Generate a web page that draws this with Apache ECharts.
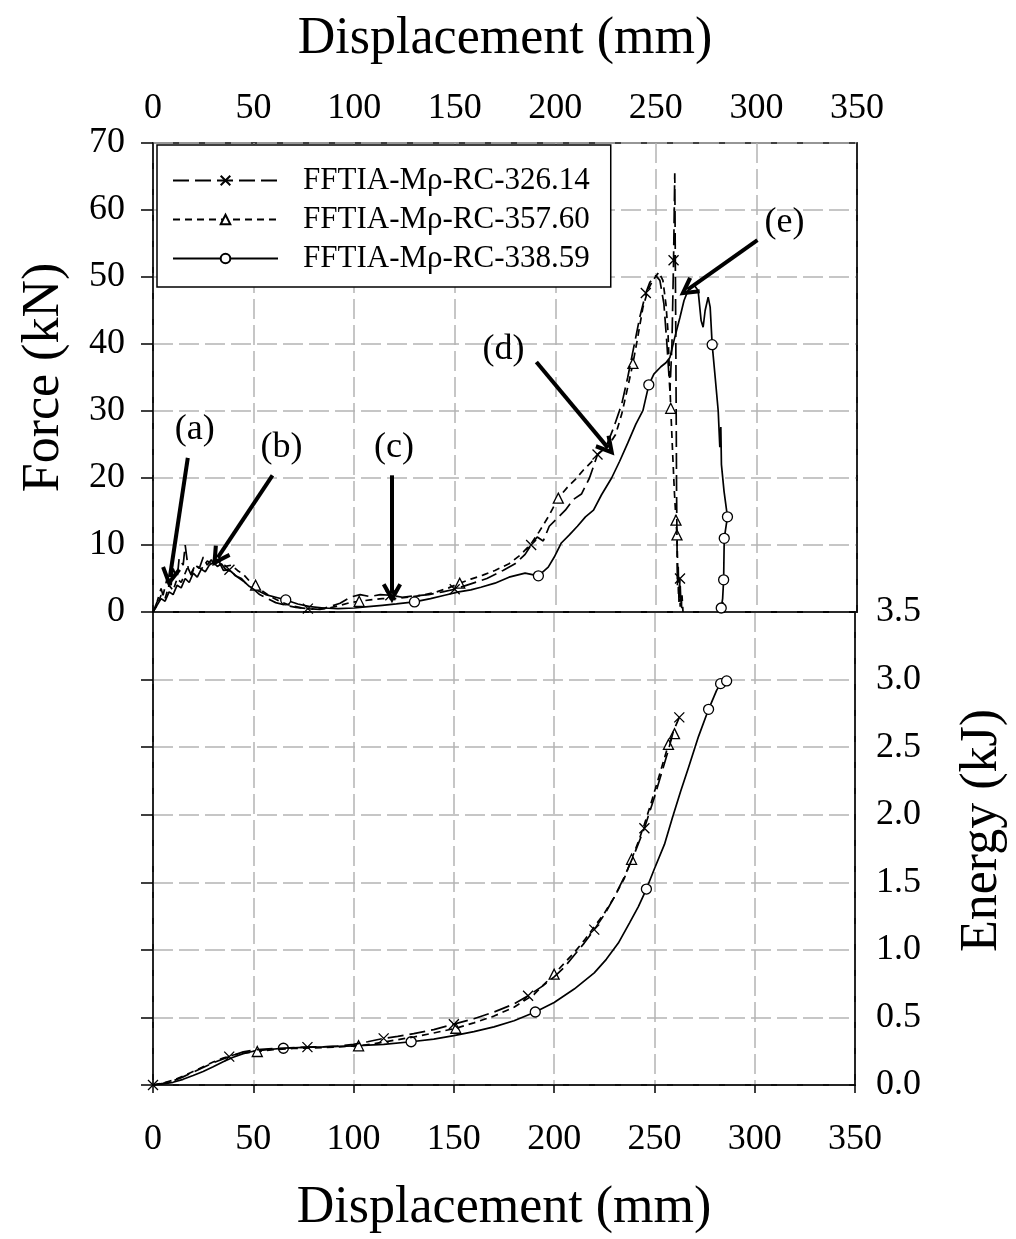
<!DOCTYPE html>
<html>
<head>
<meta charset="utf-8">
<script src="https://cdn.jsdelivr.net/npm/echarts@6/dist/echarts.min.js"></script>
<style>
  html, body { margin: 0; padding: 0; background: #fff; }
  #chart { width: 1016px; height: 1239px; }
</style>
</head>
<body>
<div id="chart"></div>
<script>
// Series names
const seriesNames = ['FFTIA-Mρ-RC-326.14', 'FFTIA-Mρ-RC-357.60', 'FFTIA-Mρ-RC-338.59'];

// Axis ticks
const dispTicks = [0, 50, 100, 150, 200, 250, 300, 350];
const forceTicks = [0, 10, 20, 30, 40, 50, 60, 70];
const energyTicks = [0, 0.5, 1, 1.5, 2, 2.5, 3, 3.5];

// Force vs displacement [mm, kN]
const forceA = [[0,0],[2,1.5],[4,3.5],[5,2.5],[7,5],[9,4],[10,6.5],[12,5],[13,8],[15,7],[16,10],[17.5,6.5],[19,5.5],[21,7],[23,6.5],[25,8.2],[27,7],[29,7.8],[31,6.8],[33,7.4],[35,6.2],[38,6.3],[41,5.4],[44,5.0],[47,4.0],[50,3.4],[53,2.6],[57,2.0],[61,1.4],[66,1.0],[71,0.7],[77,0.5],[83,0.4],[88,0.8],[93,1.3],[98,2.2],[103,2.6],[108,2.3],[113,2.6],[118,2.5],[124,2.2],[130,2.4],[137,2.6],[144,3.0],[150,3.4],[158,4.2],[166,5.0],[174,6.2],[180,7.2],[185,8.6],[188,10],[191,11.2],[194,10.6],[197,12.8],[201,14.0],[205,15.2],[209,16.8],[213,17.6],[217,20.0],[221,23.5],[225,24.5],[229,27.5],[233,31],[236,35],[239,39.5],[242,44],[245,47.6],[247,49.2],[250,50.2],[252,49.5],[254,46],[255.5,40],[257,33],[258,40],[258.8,52.5],[259.4,65.5],[259.9,42],[260.3,18],[260.7,4],[261.1,7],[261.5,1.5],[262,5],[262.5,0.8],[263,2.5],[263.5,0]];
const forceB = [[0,0],[2,1],[4,2.5],[6,2],[8,4],[10,3.2],[12,5],[14,4.4],[17,6.5],[19,5.8],[21,7],[24,6.4],[27,7.6],[30,7],[33,7.6],[36,6.8],[39,7],[42,6.2],[45,5.6],[48,4.6],[51,4.0],[54,3.2],[58,2.4],[63,1.6],[68,1.0],[74,0.6],[80,0.4],[86,0.5],[92,0.9],[98,1.4],[102.5,1.6],[108,1.8],[114,2.0],[120,2.0],[127,2.2],[134,2.5],[141,3.0],[147,3.6],[152.5,4.3],[158,4.9],[164,5.5],[170,6.2],[177,7.2],[183,8.6],[188,10.2],[192,12],[196.5,14.2],[201.5,17],[206,18.6],[210,19.8],[214,21.2],[218,22.4],[222,23.8],[226,24.6],[230,26.5],[233,29.5],[236,33.5],[238.6,37.1],[241,41],[243.6,45.5],[246,48],[248.5,49.5],[251.5,50.7],[253.5,49.5],[255,46],[256,42],[257.4,30.4],[258.3,24],[259.2,18],[260,13.7],[260.5,11.5],[260.9,6],[261.3,2.5],[261.7,4],[262.1,0.8],[262.6,1.8],[263,0]];
const forceC = [[0,0],[2,1],[4,2],[6,1.6],[8,3],[10,2.6],[12,4],[14,3.6],[16,5],[18,4.4],[20,5.8],[22,5.2],[24,6.4],[26,6],[28,7],[30,7.4],[32,6.8],[34,7.2],[36,6.4],[39,6],[42,5.2],[45,4.6],[48,3.8],[52,3.2],[56,2.6],[61,2.2],[66,1.8],[72,1.2],[78,0.8],[85,0.6],[92,0.5],[100,0.6],[107,0.8],[114,1.0],[121,1.2],[130,1.5],[138,2.0],[145,2.5],[152,3.0],[158,3.3],[163,3.7],[170,4.3],[177,5.2],[185,5.8],[191.6,5.4],[196.5,6.7],[199.5,8.2],[203,10.3],[207,11.5],[211,12.8],[215,14.2],[219,15.2],[223,17.5],[228,20],[232,22.5],[236,25.2],[240,28],[243.6,30.1],[246.5,33.9],[249,35.5],[252.5,36.6],[255,37.2],[257,38],[259,40.5],[262,44],[264,46.5],[266,48],[269,48.8],[271,48],[272.5,43.5],[273.5,42.5],[274.5,45],[276,47],[277,45.5],[278,39.9],[279.5,35],[281,30],[281.8,24.6],[282.3,27.6],[282.6,22],[283.9,18],[285.6,14.2],[284.5,12],[284,11],[283.8,7],[283.7,4.8],[283.2,2],[282.5,0.6],[283.3,1.5],[282.8,0]];

// Energy vs displacement [mm, kJ]
const energyA = [[0,0],[5,0.012],[10,0.03],[15,0.06],[20,0.095],[25,0.13],[30,0.165],[38,0.21],[45,0.245],[52,0.262],[60,0.27],[68,0.275],[77,0.28],[85,0.283],[92,0.288],[100,0.30],[107,0.32],[115,0.345],[122,0.36],[130,0.38],[140,0.41],[150,0.45],[160,0.49],[170,0.54],[180,0.60],[187,0.66],[194,0.73],[200,0.80],[205,0.87],[210,0.96],[215,1.05],[220,1.15],[225,1.26],[230,1.39],[235,1.54],[240,1.71],[245,1.90],[250,2.13],[254,2.33],[257,2.48],[259.5,2.62],[262.4,2.72]];
const energyB = [[0,0],[5,0.015],[10,0.035],[15,0.065],[20,0.10],[25,0.135],[30,0.17],[35,0.20],[40,0.222],[46,0.238],[52,0.248],[60,0.262],[70,0.27],[80,0.275],[90,0.28],[102.5,0.29],[110,0.305],[120,0.33],[130,0.355],[140,0.385],[151,0.42],[160,0.46],[170,0.51],[180,0.575],[190,0.67],[200,0.82],[205,0.90],[210,0.98],[215,1.07],[220,1.17],[225,1.27],[230,1.39],[235,1.53],[238.6,1.67],[242,1.80],[245,1.93],[248,2.07],[251,2.22],[254,2.37],[257,2.52],[260,2.60]];
const energyC = [[0,0],[5,0.008],[10,0.02],[15,0.042],[20,0.07],[25,0.10],[30,0.135],[35,0.172],[40,0.205],[45,0.232],[50,0.25],[57,0.262],[65,0.272],[75,0.278],[85,0.282],[100,0.29],[115,0.30],[128.7,0.32],[140,0.34],[150,0.365],[160,0.395],[170,0.43],[180,0.475],[190.6,0.54],[200,0.61],[210,0.71],[220,0.83],[226,0.93],[232,1.05],[237.6,1.20],[242,1.32],[246,1.45],[250,1.60],[255,1.78],[259,1.98],[263,2.17],[267,2.35],[272,2.58],[277,2.78],[281,2.92],[283,2.97],[286,2.99]];

// Displacements at which a marker symbol is drawn
const forceMarksA = [38, 77, 118, 150, 188, 221, 245, 258.8, 262];
const forceMarksB = [51, 102.5, 152.5, 201.5, 238.6, 257.4, 260, 260.5];
const forceMarksC = [66, 130, 191.6, 246.5, 278, 285.6, 284, 283.7, 282.5];
const energyMarksA = [0, 38, 77, 115, 150, 187, 220, 245, 262.4];
const energyMarksB = [52, 102.5, 151, 200, 238.6, 257, 260];
const energyMarksC = [65, 128.7, 190.6, 246, 277, 283, 286];

// Annotation arrows: [label, label position, arrow tail, arrow head] in [mm, kN]
const noteLabels = ['(a)', '(b)', '(c)', '(d)', '(e)'];
const noteLabelAt = [[20.8, 27.2], [63.9, 24.6], [119.8, 24.5], [174.3, 39.1], [313.9, 58.2]];
const noteTail = [[17.3, 23], [59.4, 20.4], [118.8, 20.4], [190.6, 37.3], [300.5, 55.5]];
const noteHead = [[8.4, 5.2], [32.2, 8.1], [118.8, 2.8], [226.2, 24.5], [265.8, 48.1]];

const FONT = '"Liberation Serif", "Times New Roman", serif';
const crossPath = 'path://M0,0L10,10M10,0L0,10';
const chevronPath = 'path://M10,0L20,17L16.5,19L10,8L3.5,19L0,17Z';
const styles = [
  { symbol: crossPath, dash: [16, 6], fill: '#000' },
  { symbol: 'triangle', dash: [7, 5], fill: '#fff' },
  { symbol: 'circle', dash: 'solid', fill: '#fff' }
];

function points(pairs, marks, sym) {
  return pairs.map(([x, y]) => ({ value: [x, y], symbol: marks.includes(x) ? sym : 'none' }));
}

function lineSeries(i, pairs, marks, xIdx, yIdx) {
  const s = styles[i];
  return {
    name: seriesNames[i],
    type: 'line',
    xAxisIndex: xIdx,
    yAxisIndex: yIdx,
    data: points(pairs, marks, s.symbol),
    symbol: s.symbol,
    symbolSize: 10,
    showSymbol: true,
    showAllSymbol: true,
    z: 5 - i,
    lineStyle: { color: '#000', width: 1.7, type: s.dash },
    itemStyle: { color: s.fill, borderColor: '#000', borderWidth: 1.3 },
    emphasis: { disabled: true }
  };
}

const gridLine = { show: true, lineStyle: { color: '#b4b4b4', width: 1.5, type: [20, 6] } };
const axisText = { color: '#000', fontSize: 36, fontFamily: FONT };
const titleText = { color: '#000', fontSize: 52, fontFamily: FONT };
const blackLine = { show: true, lineStyle: { color: '#000', width: 1.5 } };
const outTick = { show: true, inside: false, length: 12, lineStyle: { color: '#000', width: 1.5 } };

const series = [
  lineSeries(0, forceA, forceMarksA, 0, 0),
  lineSeries(1, forceB, forceMarksB, 0, 0),
  lineSeries(2, forceC, forceMarksC, 0, 0),
  lineSeries(0, energyA, energyMarksA, 1, 2),
  lineSeries(1, energyB, energyMarksB, 1, 2),
  lineSeries(2, energyC, energyMarksC, 1, 2)
];

// Arrows and their letters ride on the first force series
series[0].markLine = {
  silent: true,
  symbol: ['none', chevronPath],
  symbolSize: [20, 20],
  lineStyle: { color: '#000', width: 4, type: 'solid' },
  itemStyle: { color: '#000' },
  label: { show: false },
  data: noteTail.map((t, i) => [{ coord: t }, { coord: noteHead[i] }])
};
series[0].markPoint = {
  silent: true,
  symbol: 'circle',
  symbolSize: 1,
  itemStyle: { color: 'rgba(0,0,0,0)', borderWidth: 0 },
  label: { show: true, position: 'inside', formatter: '{b}', color: '#000', fontSize: 36, fontFamily: FONT },
  data: noteLabels.map((n, i) => ({ name: n, coord: noteLabelAt[i] }))
};

const option = {
  animation: false,
  backgroundColor: '#fff',
  textStyle: { fontFamily: FONT },
  grid: [
    { left: 153, top: 143, width: 704, height: 469, show: true, borderColor: '#000', borderWidth: 1.5, backgroundColor: 'transparent' },
    { left: 153, top: 612, width: 704, height: 473, show: true, borderColor: '#000', borderWidth: 1.5, backgroundColor: 'transparent' }
  ],
  legend: {
    data: seriesNames,
    orient: 'vertical',
    left: 157,
    top: 145,
    itemWidth: 105,
    itemHeight: 12,
    itemGap: 8,
    padding: [20, 21, 13, 15],
    borderColor: '#000',
    borderWidth: 1.5,
    backgroundColor: '#fff',
    selectedMode: false,
    textStyle: { color: '#000', fontSize: 31, fontFamily: FONT, lineHeight: 31, padding: [0, 0, 0, 20] }
  },
  xAxis: [
    {
      gridIndex: 0, type: 'value', position: 'top',
      min: dispTicks[0], max: dispTicks[dispTicks.length - 1], interval: dispTicks[1] - dispTicks[0],
      axisLine: blackLine, axisTick: { show: false },
      axisLabel: Object.assign({ margin: 16 }, axisText),
      splitLine: gridLine,
      name: 'Displacement (mm)', nameLocation: 'middle', nameGap: 78, nameTextStyle: titleText
    },
    {
      gridIndex: 1, type: 'value', position: 'bottom',
      min: dispTicks[0], max: dispTicks[dispTicks.length - 1], interval: dispTicks[1] - dispTicks[0],
      axisLine: blackLine, axisTick: Object.assign({}, outTick, { length: 8 }),
      axisLabel: Object.assign({ margin: 37 }, axisText),
      splitLine: gridLine,
      name: 'Displacement (mm)', nameLocation: 'middle', nameGap: 97, nameTextStyle: titleText
    }
  ],
  yAxis: [
    {
      gridIndex: 0, type: 'value', position: 'left',
      min: forceTicks[0], max: forceTicks[forceTicks.length - 1], interval: forceTicks[1] - forceTicks[0],
      axisLine: blackLine, axisTick: outTick,
      axisLabel: Object.assign({ margin: 28 }, axisText),
      splitLine: gridLine,
      name: 'Force (kN)', nameLocation: 'middle', nameGap: 83, nameRotate: 90, nameTextStyle: titleText
    },
    {
      gridIndex: 1, type: 'value', position: 'left',
      min: energyTicks[0], max: energyTicks[energyTicks.length - 1], interval: energyTicks[1] - energyTicks[0],
      axisLine: blackLine, axisTick: outTick,
      axisLabel: { show: false },
      splitLine: gridLine
    },
    {
      gridIndex: 1, type: 'value', position: 'right',
      min: energyTicks[0], max: energyTicks[energyTicks.length - 1], interval: energyTicks[1] - energyTicks[0],
      axisLine: blackLine, axisTick: { show: false },
      axisLabel: Object.assign({ margin: 21, formatter: v => v.toFixed(1) }, axisText),
      splitLine: { show: false },
      name: 'Energy (kJ)', nameLocation: 'middle', nameGap: 101, nameRotate: 90,
      nameTextStyle: Object.assign({ padding: [0, 0, 0, 36] }, titleText)
    },
    {
      // right frame of the force panel
      gridIndex: 0, type: 'value', position: 'right',
      min: forceTicks[0], max: forceTicks[forceTicks.length - 1], interval: forceTicks[1] - forceTicks[0],
      axisLine: blackLine, axisTick: { show: false }, axisLabel: { show: false }, splitLine: { show: false }
    }
  ],
  series: series
};

const chart = echarts.init(document.getElementById('chart'), null, { renderer: 'canvas' });
chart.setOption(option);
</script>
</body>
</html>
